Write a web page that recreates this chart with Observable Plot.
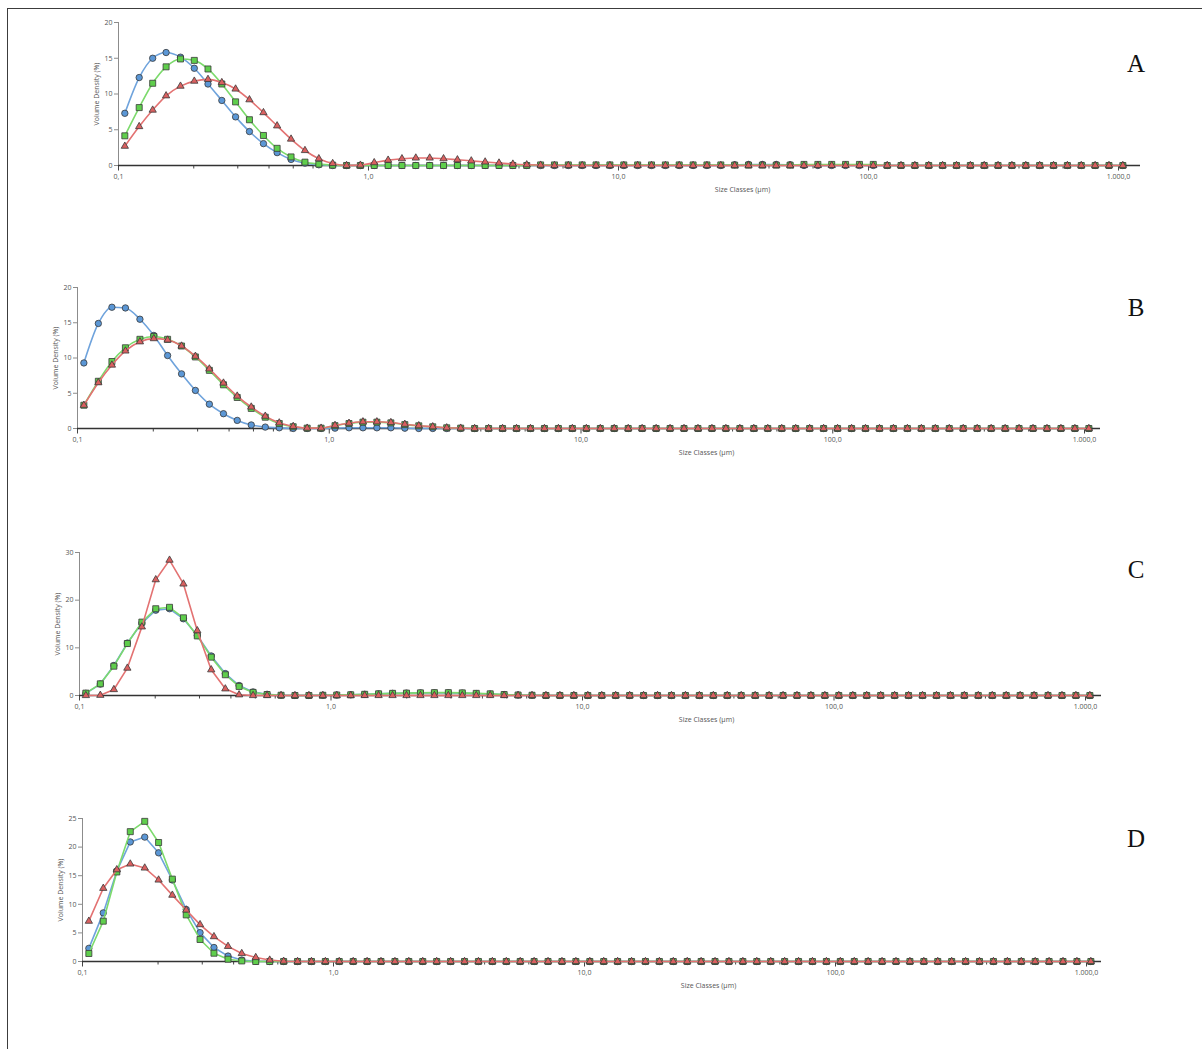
<!DOCTYPE html>
<html><head><meta charset="utf-8">
<script src="https://cdn.jsdelivr.net/npm/d3@7"></script>
<script src="https://cdn.jsdelivr.net/npm/@observablehq/plot@0.6"></script>
<style>
body{margin:0;background:#fff;}
#root{position:relative;width:1202px;height:1049px;overflow:hidden;background:#fff;}
#frame{position:absolute;left:7px;top:8px;width:1300px;height:1100px;border:1.5px solid #3c3c3c;}
.panel{position:absolute;left:0;}
#tags{position:absolute;left:0;top:0;}
</style></head>
<body><div id="root"><div id="frame"></div></div>
<script>
// Size classes (µm)
const sizes = [
  0.106,0.121,0.137,0.155,0.177,0.201,0.228,0.259,0.294,0.334,
  0.380,0.431,0.490,0.557,0.633,0.719,0.817,0.928,1.054,1.198,
  1.361,1.546,1.757,1.996,2.268,2.577,2.928,3.327,3.780,4.295,
  4.880,5.544,6.299,7.157,8.132,9.240,10.50,11.93,13.55,15.40,
  17.49,19.88,22.58,25.66,29.15,33.12,37.63,42.76,48.58,55.20,
  62.72,71.26,80.96,91.99,104.5,118.8,134.9,153.3,174.2,197.9,
  224.9,255.5,290.3,329.8,374.7,425.8,483.8,549.7,624.5,709.6,
  806.2,916.0,1040.8];

const xTickValues = [0.1, 1, 10, 100, 1000];
const xTickLabels = ["0,1", "1,0", "10,0", "100,0", "1.000,0"];
const panelLetters = ["A", "B", "C", "D"];
const xLabel = "Size Classes (µm)";
const yLabel = "Volume Density (%)";

// Panel A
const aBlue = [
  7.3,12.3,15.0,15.8,15.15,13.6,11.4,9.1,6.8,4.75,
  3.06,1.8,0.85,0.33,0.1,0,0,0,0,0,
  0,0,0,0,0,0,0,0,0,0,
  0,0,0,0,0,0,0,0,0,0,
  0,0,0,0,0.1,0.15,0.15,0.15,0.1,0,
  0,0,0,0,0,0,0,0,0,0,
  0,0,0,0,0,0,0,0,0,0,
  0,0,0];
const aGreen = [
  4.15,8.1,11.5,13.8,14.9,14.7,13.5,11.4,8.9,6.4,
  4.2,2.4,1.2,0.47,0.19,0.05,0,0,0,0,
  0,0,0,0,0,0,0,0,0,0,
  0.08,0.08,0.08,0.08,0.08,0.08,0.08,0.08,0.08,0.08,
  0.08,0.08,0.08,0.08,0.05,0.05,0.05,0.05,0.05,0.15,
  0.15,0.15,0.15,0.15,0.15,0,0,0,0,0,
  0,0,0,0,0,0,0,0,0,0,
  0,0,0];
const aRed = [
  2.7,5.45,7.75,9.75,11.1,11.8,12.05,11.6,10.7,9.2,
  7.4,5.55,3.7,2.1,0.95,0.28,0,0.05,0.4,0.75,
  0.95,1.05,1.05,0.95,0.8,0.65,0.5,0.35,0.2,0.1,
  0.05,0,0,0,0,0,0,0,0,0,
  0,0,0,0,0,0,0,0,0,0,
  0,0,0,0,0,0,0,0,0,0,
  0,0,0,0,0,0,0,0,0,0,
  0,0,0];

// Panel B
const bBlue = [
  9.3,14.9,17.2,17.1,15.5,13.2,10.35,7.75,5.4,3.45,
  2.1,1.15,0.5,0.2,0.1,0,0,0,0.05,0.1,
  0.1,0.1,0.1,0.05,0,0,0,0,0,0,
  0,0,0,0,0,0,0,0,0,0,
  0,0,0,0,0,0,0,0,0,0,
  0,0,0,0,0,0,0,0,0,0,
  0,0,0,0,0,0,0,0,0,0,
  0,0,0];
const bGreen = [
  3.3,6.7,9.5,11.45,12.65,13.05,12.65,11.7,10.15,8.25,
  6.2,4.4,2.85,1.6,0.7,0.25,0.05,0.05,0.4,0.7,
  0.9,0.9,0.8,0.55,0.38,0.24,0.1,0.05,0,0,
  0,0,0,0,0,0,0,0,0,0,
  0,0,0,0,0,0,0,0,0,0,
  0,0,0,0,0,0,0,0,0,0,
  0,0,0,0,0,0,0,0,0,0,
  0,0,0];
const bRed = [
  3.3,6.5,9.0,11.0,12.3,12.75,12.55,11.7,10.25,8.45,
  6.45,4.6,3.05,1.75,0.8,0.3,0.05,0.05,0.45,0.75,
  0.95,0.95,0.85,0.6,0.4,0.25,0.1,0.05,0,0,
  0,0,0,0,0,0,0,0,0,0,
  0,0,0,0,0,0,0,0,0,0,
  0,0,0,0,0,0,0,0,0,0,
  0,0,0,0,0,0,0,0,0,0,
  0,0,0];

// Panel C
const cBlue = [
  0.45,2.4,6.3,11.0,15.2,17.9,18.2,16.1,12.6,8.3,
  4.6,2.1,0.75,0.25,0.05,0,0,0.05,0.1,0.15,
  0.25,0.35,0.45,0.5,0.55,0.55,0.55,0.5,0.4,0.3,
  0.2,0.1,0.05,0,0,0,0,0,0,0,
  0,0,0,0,0,0,0,0,0,0,
  0,0,0,0,0,0,0,0,0,0,
  0,0,0,0,0,0,0,0,0,0,
  0,0,0];
const cGreen = [
  0.5,2.45,6.15,10.9,15.4,18.2,18.5,16.3,12.5,8.05,
  4.35,1.9,0.65,0.2,0.05,0,0,0.05,0.1,0.15,
  0.25,0.35,0.45,0.5,0.55,0.6,0.6,0.55,0.45,0.35,
  0.2,0.1,0.05,0,0,0,0,0,0,0,
  0,0,0,0,0,0,0,0,0,0,
  0,0,0,0,0,0,0,0,0,0,
  0,0,0,0,0,0,0,0,0,0,
  0,0,0];
const cRed = [
  0,0.05,1.25,5.75,14.4,24.3,28.4,23.4,13.6,5.4,
  1.4,0.15,0,0,0,0,0,0,0,0,
  0,0,0,0,0,0,0,0,0,0,
  0,0,0,0,0,0,0,0,0,0,
  0,0,0,0,0,0,0,0,0,0,
  0,0,0,0,0,0,0,0,0,0,
  0,0,0,0,0,0,0,0,0,0,
  0,0,0];

// Panel D
const dBlue = [
  2.3,8.5,15.8,20.9,21.75,19.0,14.25,9.1,5.05,2.45,
  0.95,0.25,0.05,0,0,0,0,0,0,0,
  0,0,0,0,0,0,0,0,0,0,
  0,0,0,0,0,0,0,0,0,0,
  0,0,0,0,0,0,0,0,0,0,
  0,0,0,0,0,0,0,0,0,0,
  0,0,0,0,0,0,0,0,0,0,
  0,0,0];
const dGreen = [
  1.4,7.05,15.65,22.7,24.5,20.8,14.4,8.15,3.85,1.45,
  0.4,0.1,0,0,0,0,0,0,0,0,
  0,0,0,0,0,0,0,0,0,0,
  0,0,0,0,0,0,0,0,0,0,
  0,0,0,0,0,0,0,0,0,0,
  0,0,0,0,0,0,0,0,0,0,
  0,0,0,0,0,0,0,0,0,0,
  0,0,0];
const dRed = [
  7.05,12.8,16.05,17.05,16.35,14.25,11.6,9.0,6.45,4.35,
  2.65,1.4,0.7,0.25,0.05,0,0,0,0,0,
  0,0,0,0,0,0,0,0,0,0,
  0,0,0,0,0,0,0,0,0,0,
  0,0,0,0,0,0,0,0,0,0,
  0,0,0,0,0,0,0,0,0,0,
  0,0,0,0,0,0,0,0,0,0,
  0,0,0];

// Layout (pixels)
const layouts = [
  {x0:118, decade:250,   axisEnd:1140, yTop:22,  yBottom:165, ymax:20, yTicks:[0,5,10,15,20],    letterY:71.5, labelX:742, curve:"monotone-x"},
  {x0:77,  decade:251.75,axisEnd:1100, yTop:287, yBottom:428, ymax:20, yTicks:[0,5,10,15,20],    letterY:316,  labelX:706, curve:"monotone-x"},
  {x0:79,  decade:251.5, axisEnd:1101, yTop:552, yBottom:695, ymax:30, yTicks:[0,10,20,30],      letterY:578,  labelX:706, curve:"linear"},
  {x0:82,  decade:251,   axisEnd:1101, yTop:818, yBottom:961, ymax:25, yTicks:[0,5,10,15,20,25], letterY:847,  labelX:708, curve:"linear"}
];
const seriesData = [[aBlue,aGreen,aRed],[bBlue,bGreen,bRed],[cBlue,cGreen,cRed],[dBlue,dGreen,dRed]];

const styles = [
  {line:"#6fa3dc", fill:"#5b97d6", symbol:"circle",   r:3.2},
  {line:"#7cda6c", fill:"#5fce4c", symbol:"square",   r:3.4},
  {line:"#e37272", fill:"#da6060", symbol:"triangle", r:2.7}
];

const minorTicks = [];
for (const dec of [0.1,1,10,100,1000]) for (let m=2;m<=9;m++) { const v=dec*m; if (v<1200) minorTicks.push(v); }

const root = document.getElementById("root");

layouts.forEach((L, p) => {
  const top = L.yTop - 12;
  const height = (L.yBottom - top) + 35;
  const xmax = 0.1 * Math.pow(10, (L.axisEnd - L.x0) / L.decade);
  const frameCenter = (L.x0 + L.axisEnd) / 2;
  const marks = [
    Plot.ruleX([0.1], {stroke:"#8c8c8c", strokeWidth:1}),
    Plot.axisY({ticks:L.yTicks, tickSize:4, tickPadding:2, stroke:"#8c8c8c", tickFormat:d=>String(d),
      label:yLabel, labelAnchor:"center", labelOffset:24.5, labelArrow:"none"}),
    Plot.axisX({ticks:minorTicks.filter(v=>v<xmax), tickSize:3.5, tickFormat:()=> "", label:null, stroke:"#444"}),
    Plot.axisX({ticks:xTickValues, tickSize:5.5, tickPadding:3.5, stroke:"#444",
      tickFormat:d=>xTickLabels[xTickValues.indexOf(d)], label:null}),
    Plot.text([xLabel], {frameAnchor:"bottom", dx:L.labelX - frameCenter, dy:26, fill:"#555", fontSize:7}),
    Plot.ruleY([0], {stroke:"#333", strokeWidth:1.3})
  ];
  seriesData[p].forEach((vals, s) => {
    const st = styles[s];
    marks.push(Plot.line(sizes, {x:d=>d, y:(d,i)=>vals[i], stroke:st.line, strokeWidth:1.6, curve:L.curve}));
    marks.push(Plot.dot(sizes, {x:d=>d, y:(d,i)=>vals[i], symbol:st.symbol, r:st.r, fill:st.fill, stroke:"#3a3a3a", strokeWidth:0.8}));
  });
  const chart = Plot.plot({
    width:1202, height,
    marginLeft:L.x0, marginRight:1202-L.axisEnd, marginTop:12, marginBottom:35,
    x:{type:"log", domain:[0.1, xmax], axis:null},
    y:{domain:[0, L.ymax], axis:null},
    style:{fontFamily:"'Open Sans', 'Noto Sans', sans-serif", fontSize:"7px", color:"#555", background:"transparent", overflow:"visible"},
    marks
  });
  const div = document.createElement("div");
  div.className = "panel";
  div.style.top = top + "px";
  div.appendChild(chart);
  root.appendChild(div);
});

// Panel letters
const svg = d3.select(root).append("svg").attr("id","tags").attr("width",1202).attr("height",1049);
layouts.forEach((L,p) => {
  svg.append("text").attr("x",1136).attr("y",L.letterY).attr("text-anchor","middle")
    .attr("font-family","'Liberation Serif', serif").attr("font-size",25).attr("fill","#111").text(panelLetters[p]);
});
</script>
</body></html>
